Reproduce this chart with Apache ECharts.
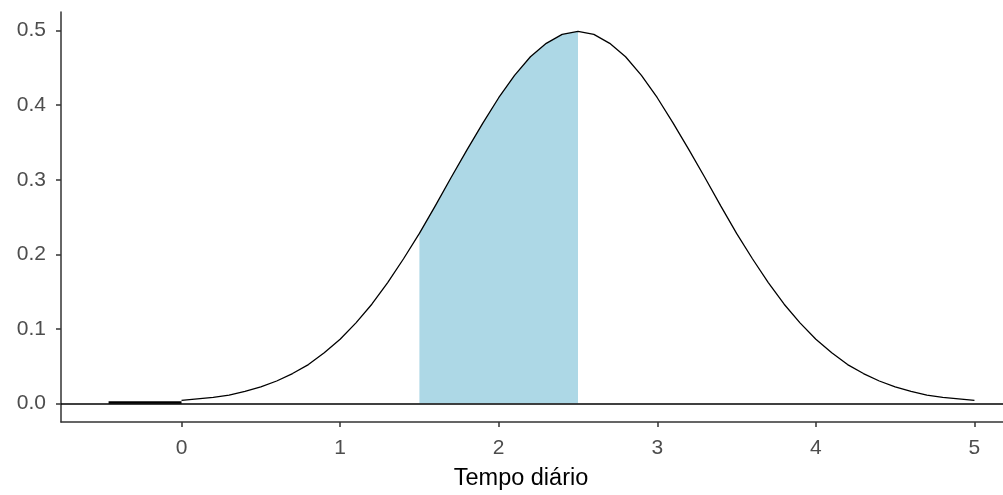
<!DOCTYPE html>
<html>
<head>
<meta charset="utf-8">
<title>Tempo diário</title>
<script src="https://cdn.jsdelivr.net/npm/echarts@6/dist/echarts.min.js"></script>
<style>
  html, body { margin: 0; padding: 0; background: #ffffff; }
  #chart { width: 1003px; height: 495px; }
</style>
</head>
<body>
<div id="chart"></div>
<script>
// Density curve of daily time (x) with its estimated height (y)
const xValues = [
  0.0, 0.1, 0.2, 0.3, 0.4, 0.5, 0.6, 0.7, 0.8, 0.9,
  1.0, 1.1, 1.2, 1.3, 1.4, 1.5, 1.6, 1.7, 1.8, 1.9,
  2.0, 2.1, 2.2, 2.3, 2.4, 2.5, 2.6, 2.7, 2.8, 2.9,
  3.0, 3.1, 3.2, 3.3, 3.4, 3.5, 3.6, 3.7, 3.8, 3.9,
  4.0, 4.1, 4.2, 4.3, 4.4, 4.5, 4.6, 4.7, 4.8, 4.9, 5.0
];
const densityValues = [
  0.004, 0.006, 0.008, 0.011, 0.016, 0.022, 0.030, 0.040, 0.052, 0.068,
  0.086, 0.108, 0.133, 0.162, 0.194, 0.228, 0.265, 0.303, 0.340, 0.376,
  0.410, 0.440, 0.465, 0.483, 0.495, 0.499, 0.495, 0.483, 0.465, 0.440,
  0.410, 0.376, 0.340, 0.303, 0.265, 0.228, 0.194, 0.162, 0.133, 0.108,
  0.086, 0.068, 0.052, 0.040, 0.030, 0.022, 0.016, 0.011, 0.008, 0.006, 0.004
];
// Flat stretch to the left of zero
const leftTailX = [-0.46, 0.0];
const leftTailY = [0.001, 0.001];
// Shaded interval
const shadeFrom = 1.5;
const shadeTo = 2.5;
// Tick labels
const xTicks = [0, 1, 2, 3, 4, 5];
const yTicks = [0.0, 0.1, 0.2, 0.3, 0.4, 0.5];
const xTitle = 'Tempo diário';

const curve = xValues.map((x, i) => [x, densityValues[i]]);
const shaded = curve.filter(p => p[0] >= shadeFrom - 1e-9 && p[0] <= shadeTo + 1e-9);
const tail = leftTailX.map((x, i) => [x, leftTailY[i]]);

const axisColor = '#333333';
const labelColor = '#4d4d4d';
const fontFamily = 'Arial, "Liberation Sans", sans-serif';

const chart = echarts.init(document.getElementById('chart'), null, { renderer: 'canvas' });
chart.setOption({
  animation: false,
  backgroundColor: '#ffffff',
  title: {
    text: xTitle,
    left: 516,
    top: 462,
    textAlign: 'center',
    textStyle: { color: '#000000', fontSize: 23.5, fontWeight: 'normal', fontFamily: fontFamily }
  },
  grid: { left: 61, right: 0, top: 12, bottom: 73, containLabel: false },
  xAxis: {
    type: 'value',
    min: -0.76,
    max: 5.18,
    splitLine: { show: false },
    axisLine: { show: true, onZero: false, lineStyle: { color: axisColor, width: 1.5 } },
    axisTick: { show: true, length: 5, customValues: xTicks, lineStyle: { color: axisColor, width: 1.5 } },
    axisLabel: {
      customValues: xTicks,
      color: labelColor, fontSize: 21, fontFamily: fontFamily, margin: 16,
      formatter: v => String(v)
    }
  },
  yAxis: {
    type: 'value',
    min: -0.025,
    max: 0.525,
    splitLine: { show: false },
    axisLine: { show: true, onZero: false, lineStyle: { color: axisColor, width: 1.5 } },
    axisTick: { show: true, length: 5, customValues: yTicks, lineStyle: { color: axisColor, width: 1.5 } },
    axisLabel: {
      customValues: yTicks,
      color: labelColor, fontSize: 21, fontFamily: fontFamily, margin: 15,
      formatter: v => v.toFixed(1)
    }
  },
  series: [
    {
      name: 'shade',
      type: 'line',
      data: shaded,
      symbol: 'none',
      lineStyle: { width: 0, opacity: 0 },
      areaStyle: { color: '#add8e6', opacity: 1 },
      z: 1,
      silent: true
    },
    {
      name: 'tail',
      type: 'line',
      data: tail,
      symbol: 'none',
      lineStyle: { color: '#000000', width: 2.5 },
      z: 3,
      silent: true
    },
    {
      name: 'density',
      type: 'line',
      data: curve,
      symbol: 'none',
      lineStyle: { color: '#000000', width: 1.3 },
      z: 3,
      silent: true,
      markLine: {
        silent: true,
        symbol: 'none',
        label: { show: false },
        lineStyle: { color: '#000000', width: 1.6, type: 'solid' },
        data: [{ yAxis: 0 }]
      }
    }
  ]
});
</script>
</body>
</html>
